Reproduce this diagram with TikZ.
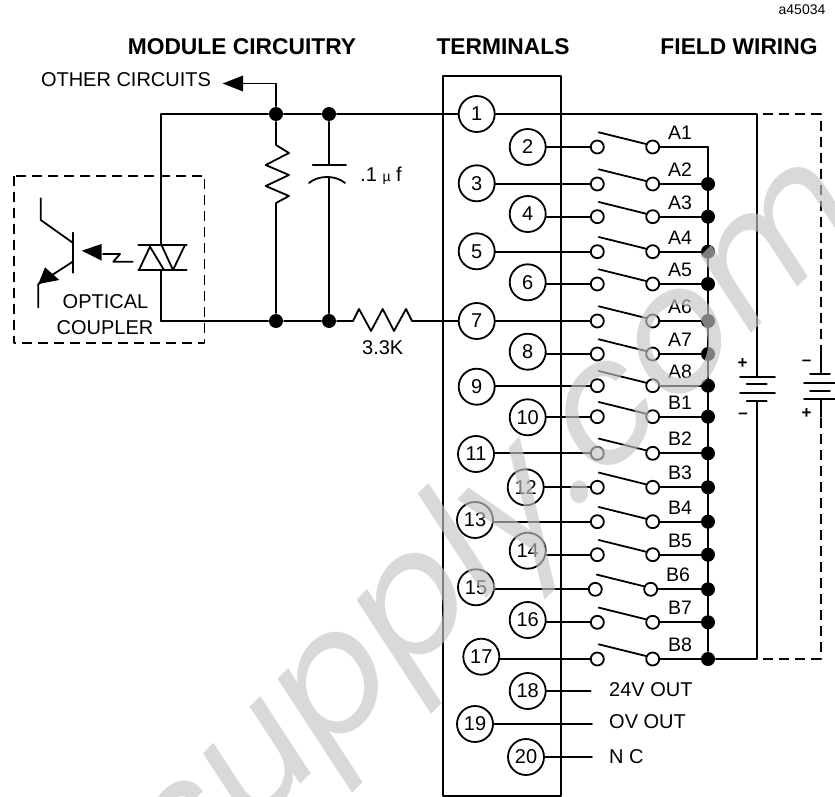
\documentclass[tikz,border=0pt]{standalone}
\usepackage{fontspec}
\setmainfont{Liberation Sans}
\newfontfamily\markfont{Poppins}
\usetikzlibrary{calc}
\tikzset{% styles of the wiring diagram
  wire/.style={line width=1.8pt, line cap=round, line join=round},
  term/.style={circle, draw, line width=1.8pt, minimum size=36pt, inner sep=0pt, fill=white, font=\fontsize{20}{20}\selectfont},
  contact/.style={circle, draw, line width=1.8pt, minimum size=13pt, inner sep=0pt, fill=white},
  junc/.style={circle, fill=black, minimum size=14pt, inner sep=0pt},
  swlabel/.style={font=\fontsize{19.5}{20}\selectfont, inner sep=0pt},
  plain/.style={font=\fontsize{20}{20}\selectfont, inner sep=0pt},
  sign/.style={font=\fontsize{17}{17}\selectfont\bfseries, inner sep=0pt},
  head/.style={font=\fontsize{22.8}{23}\selectfont\bfseries, inner sep=0pt},
  dash wire/.style={wire, line cap=butt, dash pattern=on 10pt off 6pt}
}

\begin{document}
\begin{tikzpicture}[x=1pt, y=-1pt, wire]
\useasboundingbox (0,0) rectangle (835,797);

% coordinates to be reused
\coordinate (leftrail) at (161,114);
\coordinate (leftlow) at (161,321);
\coordinate (buscorner) at (708,147);
\coordinate (batA) at (757.3,114);
\coordinate (batB) at (757.3,659);
\coordinate (batC) at (820.7,114);
\coordinate (batD) at (820.7,659);

% titles
\node [plain, font=\fontsize{14}{14}\selectfont] (tag) at (802,10) {a45034};
\node [head] (title1) at (242,47) {MODULE CIRCUITRY};
\node [head] (title2) at (503,47) {TERMINALS};
\node [head] (title3) at (739,47) {FIELD WIRING};

% terminal block
\draw (442.7,75.7) rectangle (560.7,796);
\foreach \n/\xx/\yy in {1/476.7/114, 2/527.7/147, 3/476.7/183.3, 4/527.7/214, 5/476.7/251.3,
    6/527.7/282.3, 7/476.7/321, 8/527.7/351.7, 9/476.7/386.7, 10/527.7/417.3, 11/476/454,
    12/525.7/487.3, 13/475/520, 14/527.7/550.7, 15/476/587.3, 16/527.7/620, 17/481.3/656.7,
    18/527.7/691, 19/475/724, 20/526/757}
  \node [term] (t\n) at (\xx,\yy) {\n};

% input circuit
\node [junc] (d1) at (276,114) {};
\node [junc] (d2) at (329,114) {};
\node [junc] (d3) at (276,321) {};
\node [junc] (d4) at (329,321) {};
\draw (leftlow) -- (161,270);
\draw (leftrail) -- (161,245);
\draw (leftrail) -- (d1) -- (d2) -- (t1);
\draw (leftlow) -- (d3) -- (d4) -- (353,321) -- (359,309) -- (371,331) -- (382.7,309) -- (394,331) -- (406,309) -- (412,321) -- (t7);
\draw (d1) -- (276,145) -- (289,153) -- (265.7,165) -- (289,175) -- (265.7,186) -- (289,196) -- (276,203) -- (d3);
\draw (d2) -- (329,165.3);
\draw (312.7,165.3) -- (346,165.3);
\draw (309,183) .. controls (318,175) and (336,175) .. (345,183);
\draw (329,177) -- (d4);
\node [plain] (cval) at (381,176) {.1 {\fontsize{14}{14}\selectfont µ} f};
\node [plain] (rval) at (382.7,348) {3.3K};

% branch to the other circuits
\node [plain] (other) at (126,80) {OTHER CIRCUITS};
\draw (d1) -- (276,83.5) -- (243,83.5);
\fill (222.7,83.5) -- (243,75.5) -- (243,91.5) -- cycle;

% optical coupler
\draw [dash wire] (14,175.7) rectangle (204.5,343.3);
\draw (138.3,245) -- (186.7,245);
\draw (138.3,270) -- (186.7,270);
\draw (150,246.7) -- (139,270);
\draw (150,246.7) -- (164,270);
\draw (161.5,245) -- (173,270) -- (185,245);
\draw (132.7,261.7) -- (113.3,261.7) -- (120,254) -- (103,254);
\fill (81.7,250.7) -- (101.7,244) -- (101.7,260.7) -- cycle;
\draw (73.3,232.7) -- (73.3,272.7);
\draw (72.7,242.7) -- (40.7,220) -- (40.7,198.3);
\draw (72.7,261.7) -- (38.3,284) -- (38.3,307.3);
\fill (38.3,284) -- (45,267.3) -- (59.3,280) -- cycle;
\node [plain] (opt1) at (105.5,301.7) {OPTICAL};
\node [plain] (opt2) at (105,328) {COUPLER};

% switches
\foreach \n/\lab/\yy/\sx in {2/A1/147/0, 3/A2/184/0, 4/A3/216.7/0, 5/A4/251.7/0, 6/A5/284/0, 7/A6/321/0,
    8/A7/354/0, 9/A8/385.7/0, 10/B1/416.7/0, 11/B2/453.3/0, 12/B3/487.3/0, 13/B4/521.7/0,
    14/B5/554.7/0, 15/B6/589.3/-2, 16/B7/622.3/0, 17/B8/659/0}
{
  \node [contact] (a\n) at (597.3+\sx,\yy) {};
  \node [contact] (b\n) at (652.7+\sx,\yy) {};
  \node [swlabel] (lab\n) at (680+\sx,\yy-14.3) {\lab};
  \draw (a\n) -- (a\n -| t\n.east);
  \draw (b\n) -- (b\n -| buscorner);
  \draw (598.7+\sx,\yy-14.7) -- (646+\sx,\yy-3);
}
\foreach \n/\yy in {3/184, 4/216.7, 5/251.7, 6/284, 7/321, 8/354, 9/385.7, 10/416.7, 11/453.3,
    12/487.3, 13/521.7, 14/554.7, 15/589.3, 16/622.3, 17/659}
  \node [junc] (j\n) at (708,\yy) {};
\draw (buscorner) -- (j17);

% outputs without a switch
\coordinate (o18) at (590.7,691);
\coordinate (o19) at (592,724);
\coordinate (o20) at (592,757);
\draw (t18) -- (o18);
\draw (t19) -- (o19);
\draw (t20) -- (o20);
\node [plain, anchor=west] (out18) at (608.3,690) {24V OUT};
\node [plain, anchor=west] (out19) at (608.3,721.7) {OV OUT};
\node [plain, anchor=west] (out20) at (608.3,756.7) {N C};

% first battery
\draw (t1) -- (batA) -- (757.3,376.7);
\draw (740,376.7) -- (775,376.7);
\draw (746.7,384.3) -- (766.7,384.3);
\draw (740,392.7) -- (775,392.7);
\draw (746.7,401.3) -- (766.7,401.3);
\draw (757.3,401.3) -- (batB) -- (j17);
\node [sign] (bp1) at (742.7,364) {+};
\node [sign] (bm1) at (743,415.3) {–};

% second battery
\draw [dash wire] (batA) ++(6,0) -- (batC) -- (820.7,355);
\draw [dash wire] (batB) ++(6,0) -- (batD) -- (820.7,417);
\draw (820.7,355) -- (820.7,374);
\draw (810,374) -- (830,374);
\draw (804,382.7) -- (835,382.7);
\draw (810,390.7) -- (830,390.7);
\draw (804,399) -- (835,399);
\draw (820.7,399) -- (820.7,417);
\node [sign] (bm2) at (806.7,362.3) {–};
\node [sign] (bp2) at (806.7,413.3) {+};

% print across the sheet
\node [rotate=45, xslant=0.21, anchor=base west, inner sep=0pt, text=black!23, opacity=0.65,
  font=\fontsize{165}{165}\markfont] (mark) at (155,930) {lsupply.com};
\end{tikzpicture}
\end{document}
